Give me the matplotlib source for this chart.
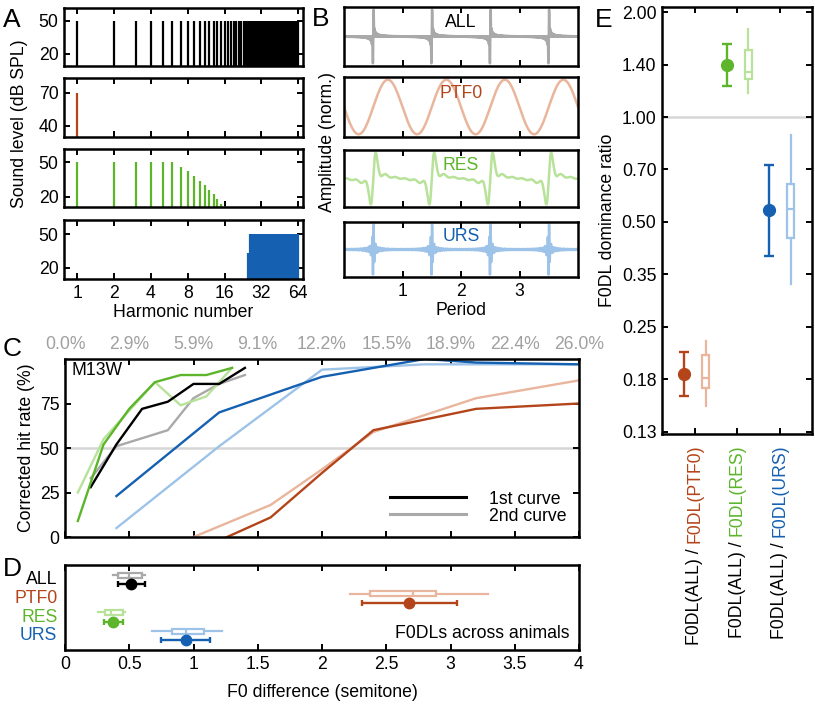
import numpy as np
import matplotlib.pyplot as plt
from matplotlib.ticker import NullLocator
from matplotlib.lines import Line2D

plt.rcParams['font.family'] = ['Liberation Sans', 'DejaVu Sans']
plt.rcParams['font.size'] = 12.7

# colours: (1st / dark, 2nd / light)
C_ALL = ('black', '#a9a9a9')
C_PTF0 = ('#b4451b', '#e9b59c')
C_RES = ('#5cb52a', '#b8e29a')
C_URS = ('#1560b0', '#9ec3e8')

# ---- A: spectra (harmonic number, dB SPL)
all_harm = list(range(1, 65))
all_level = [50] * 64
ptf0_harm = [1]
ptf0_level = [70]
res_harm = list(range(1, 17))
res_level = [50, 50, 50, 50, 50, 50, 46, 42, 38, 34, 30, 26, 22, 18, 14, 12]
urs_harm = list(range(25, 65))
urs_level = [33] + [50] * 39
harm_ticks = [1, 2, 4, 8, 16, 32, 64]

# ---- C: psychometric curves, M13W (semitone, corrected hit rate %)
all1_x = [0.2, 0.4, 0.6, 0.8, 1.0, 1.2, 1.4]
all1_y = [28, 52, 72, 76, 86, 86, 95]
all2_x = [0.2, 0.4, 0.8, 1.0, 1.2, 1.4]
all2_y = [33, 51, 60, 78, 86, 91]
res1_x = [0.1, 0.3, 0.5, 0.7, 0.9, 1.1, 1.3]
res1_y = [9, 52, 72, 87, 91, 91, 95]
res2_x = [0.1, 0.3, 0.5, 0.7, 0.9, 1.1, 1.3]
res2_y = [25, 55, 71, 87, 74, 79, 95]
urs1_x = [0.4, 1.2, 2.0, 2.8, 3.2, 4.0]
urs1_y = [23, 70, 90, 100, 98, 97]
urs2_x = [0.4, 1.2, 2.0, 2.8, 4.0]
urs2_y = [5, 51, 94, 97, 97]
ptf1_x = [1.2, 1.6, 2.0, 2.4, 3.2, 4.0]
ptf1_y = [-2, 11, 36, 60, 72, 75]
ptf2_x = [1.0, 1.6, 2.0, 2.4, 3.2, 4.0]
ptf2_y = [0, 18, 38, 59, 78, 88]
semi_ticks = [0, 0.5, 1, 1.5, 2, 2.5, 3, 3.5, 4]
pct_labels = ['0.0%', '2.9%', '5.9%', '9.1%', '12.2%', '15.5%', '18.9%', '22.4%', '26.0%']
semi_labels = ['0', '0.5', '1', '1.5', '2', '2.5', '3', '3.5', '4']

# ---- D: F0DLs across animals (semitone)
d_names = ['ALL', 'PTF0', 'RES', 'URS']
d_mean = [0.51, 2.68, 0.37, 0.94]
d_err_lo = [0.41, 2.31, 0.30, 0.75]
d_err_hi = [0.62, 3.05, 0.45, 1.13]
d_med = [0.50, 2.71, 0.36, 0.94]
d_q1 = [0.415, 2.37, 0.31, 0.83]
d_q3 = [0.60, 2.885, 0.45, 1.08]
d_whislo = [0.376, 2.22, 0.26, 0.68]
d_whishi = [0.62, 3.29, 0.47, 1.225]

# ---- E: F0DL dominance ratio
e_names = ['PTF0', 'RES', 'URS']
e_mean = [0.183, 1.414, 0.541]
e_err_lo = [0.158, 1.23, 0.40]
e_err_hi = [0.212, 1.626, 0.73]
e_med = [0.178, 1.35, 0.545]
e_q1 = [0.167, 1.29, 0.449]
e_q3 = [0.208, 1.56, 0.643]
e_whislo = [0.148, 1.17, 0.331]
e_whishi = [0.228, 1.79, 0.886]
e_ticks = [0.125, 0.1768, 0.25, 0.3536, 0.5, 0.7071, 1.0, 1.4142, 2.0]
e_labels = ['0.13', '0.18', '0.25', '0.35', '0.50', '0.70', '1.00', '1.40', '2.00']

W, H = 815, 707
fig = plt.figure(figsize=(W / 100, H / 100), dpi=100)


def add_ax(x0, x1, y0, y1):
    return fig.add_axes([x0 / W, 1 - y1 / H, (x1 - x0) / W, (y1 - y0) / H])


def style(ax):
    for s in ax.spines.values():
        s.set_linewidth(1.8)
    ax.tick_params(direction='in', length=4, width=1.4, top=True, right=True,
                   labelsize=12.7, pad=4)


# ================= A
spectra = [(all_harm, all_level, C_ALL[0], (9.2, 61.4), [20, 50]),
           (ptf0_harm, ptf0_level, C_PTF0[0], (30.1, 83.2), [40, 70]),
           (res_harm, res_level, C_RES[0], (11, 61.6), [20, 50]),
           (urs_harm, urs_level, C_URS[0], (10.2, 62.7), [20, 50])]
rows_a = [(8, 66), (78, 137), (149, 207), (220, 279)]
for i, (h, lev, c, yl, yt) in enumerate(spectra):
    ax = add_ax(64, 303, *rows_a[i])
    style(ax)
    ax.vlines(h, 0, lev, color=c, lw=1.6)
    ax.set_xscale('log', base=2)
    ax.set_xlim(0.78, 70)
    ax.set_xticks(harm_ticks)
    ax.xaxis.set_minor_locator(NullLocator())
    ax.set_ylim(*yl)
    ax.set_yticks(yt)
    if i < 3:
        ax.set_xticklabels([])
    else:
        ax.set_xticklabels([str(v) for v in harm_ticks])
        ax.set_xlabel('Harmonic number', labelpad=2)
fig.text(20 / W, 1 - 124 / H, 'Sound level (dB SPL)', rotation=90,
         ha='center', va='center')

# ================= B
t = np.linspace(0, 4, 8001)


def waveform(harm, level):
    amp = 10 ** ((np.asarray(level, float) - max(level)) / 20)
    y = np.zeros_like(t)
    for n, a in zip(harm, amp):
        y += a * np.sin(2 * np.pi * n * (t - 0.5))
    return y / np.abs(y).max()


waves = [(all_harm, all_level, C_ALL, 'ALL'),
         (ptf0_harm, ptf0_level, C_PTF0, 'PTF0'),
         (res_harm, res_level, C_RES, 'RES'),
         (urs_harm, urs_level, C_URS, 'URS')]
rows_b = [(7, 66), (77, 137), (150, 207), (222, 277)]
for i, (h, lev, c, name) in enumerate(waves):
    ax = add_ax(344, 578, *rows_b[i])
    style(ax)
    ax.plot(t, waveform(h, lev), color=c[1], lw=1.8)
    ax.set_xlim(0, 4)
    ax.set_ylim(-1.1, 1.1)
    ax.set_yticks([])
    ax.set_xticks([1, 2, 3])
    ax.text(0.5, 0.73, name, transform=ax.transAxes, ha='center', va='center',
            color=c[0])
    if i < 3:
        ax.set_xticklabels([])
    else:
        ax.set_xlabel('Period', labelpad=2)
fig.text(327 / W, 1 - 142 / H, 'Amplitude (norm.)', rotation=90,
         ha='center', va='center')

# ================= C
ax = add_ax(65, 579, 359, 537)
style(ax)
ax.axhline(50, color='#d6d6d6', lw=1.8, zorder=0)
curves = [(all2_x, all2_y, C_ALL[1]), (res2_x, res2_y, C_RES[1]),
          (urs2_x, urs2_y, C_URS[1]), (ptf2_x, ptf2_y, C_PTF0[1]),
          (all1_x, all1_y, C_ALL[0]), (res1_x, res1_y, C_RES[0]),
          (urs1_x, urs1_y, C_URS[0]), (ptf1_x, ptf1_y, C_PTF0[0])]
for x, y, c in curves:
    ax.plot(x, y, color=c, lw=1.7)
ax.set_xlim(0, 4)
ax.set_ylim(0, 100)
ax.set_yticks([0, 25, 50, 75])
ax.set_xticks(semi_ticks)
ax.set_xticklabels(pct_labels)
ax.tick_params(axis='x', labelbottom=False, labeltop=True, labelcolor='#a0a0a0')
ax.set_ylabel('Corrected hit rate (%)', labelpad=3)
ax.text(0.012, 0.985, 'M13W', transform=ax.transAxes, ha='left', va='top')
handles = [Line2D([], [], color=C_ALL[0], lw=2.2), Line2D([], [], color=C_ALL[1], lw=2.2)]
ax.legend(handles, ['1st curve', '2nd curve'], loc='lower right', frameon=False,
          handlelength=4.3, handletextpad=1.3, labelspacing=0.0,
          borderaxespad=0.3, bbox_to_anchor=(1.0, 0.0))

# ================= D
ax = add_ax(65, 579, 565, 650)
style(ax)
d_cols = [C_ALL, C_PTF0, C_RES, C_URS]
for i in range(4):
    dark, light = d_cols[i]
    stats = [dict(med=d_med[i], q1=d_q1[i], q3=d_q3[i], whislo=d_whislo[i],
                  whishi=d_whishi[i], fliers=[])]
    ax.bxp(stats, positions=[i - 0.245], widths=0.26, orientation='horizontal',
           showfliers=False, showcaps=False, patch_artist=True,
           boxprops=dict(facecolor='white', edgecolor=light, lw=1.6),
           whiskerprops=dict(color=light, lw=1.6),
           medianprops=dict(color=light, lw=1.6))
    ax.errorbar([d_mean[i]], [i + 0.245],
                xerr=[[d_mean[i] - d_err_lo[i]], [d_err_hi[i] - d_mean[i]]],
                fmt='o', color=dark, ms=7.5, capsize=2, elinewidth=1.7, capthick=1.7)
    ax.text(-0.015, i, d_names[i], transform=ax.get_yaxis_transform(),
            ha='right', va='center', color=dark)
ax.set_xlim(0, 4)
ax.set_ylim(3.77, -0.79)
ax.set_yticks([])
ax.set_xticks(semi_ticks)
ax.set_xticklabels(semi_labels)
ax.tick_params(axis='y', left=False, right=False)
ax.set_xlabel('F0 difference (semitone)', labelpad=8)
ax.text(0.982, 0.2, 'F0DLs across animals', transform=ax.transAxes,
        ha='right', va='center')

# ================= E
ax = add_ax(662, 812, 7, 434)
style(ax)
ax.set_yscale('log', base=2)
ax.axhline(1.0, color='#d6d6d6', lw=1.8, zorder=0)
e_cols = [C_PTF0, C_RES, C_URS]
for i in range(3):
    dark, light = e_cols[i]
    x = i + 1
    stats = [dict(med=e_med[i], q1=e_q1[i], q3=e_q3[i], whislo=e_whislo[i],
                  whishi=e_whishi[i], fliers=[])]
    ax.bxp(stats, positions=[x + 0.25], widths=0.17, showfliers=False,
           showcaps=False, patch_artist=True,
           boxprops=dict(facecolor='white', edgecolor=light, lw=1.6),
           whiskerprops=dict(color=light, lw=1.6),
           medianprops=dict(color=light, lw=1.6))
    ax.errorbar([x - 0.25], [e_mean[i]],
                yerr=[[e_mean[i] - e_err_lo[i]], [e_err_hi[i] - e_mean[i]]],
                fmt='o', color=dark, ms=8.5, capsize=3.3, elinewidth=1.7, capthick=1.7)
    lab = ax.text(x, -0.025, 'F0DL(' + e_names[i] + ')', transform=ax.get_xaxis_transform(),
                  rotation=90, rotation_mode='anchor', ha='right', va='center', color=dark)
    ax.annotate('F0DL(ALL) /', xy=(0.5, 0), xycoords=lab, xytext=(0, -4),
                textcoords='offset points', rotation=90, rotation_mode='anchor',
                ha='right', va='center', color='black')
ax.set_xlim(0.224, 3.753)
ax.set_ylim(0.123, 2.07)
ax.set_yticks(e_ticks)
ax.set_yticklabels(e_labels)
ax.yaxis.set_minor_locator(NullLocator())
ax.set_xticks([1, 2, 3])
ax.set_xticklabels([])
ax.set_ylabel('F0DL dominance ratio', labelpad=4)

# panel letters
for letter, px, py in [('A', 3, 8), ('B', 312, 7), ('C', 3, 337), ('D', 3, 557), ('E', 595, 8)]:
    fig.text(px / W, 1 - py / H, letter, fontsize=19, ha='left', va='top')

fig.savefig('out.png', dpi=100)
